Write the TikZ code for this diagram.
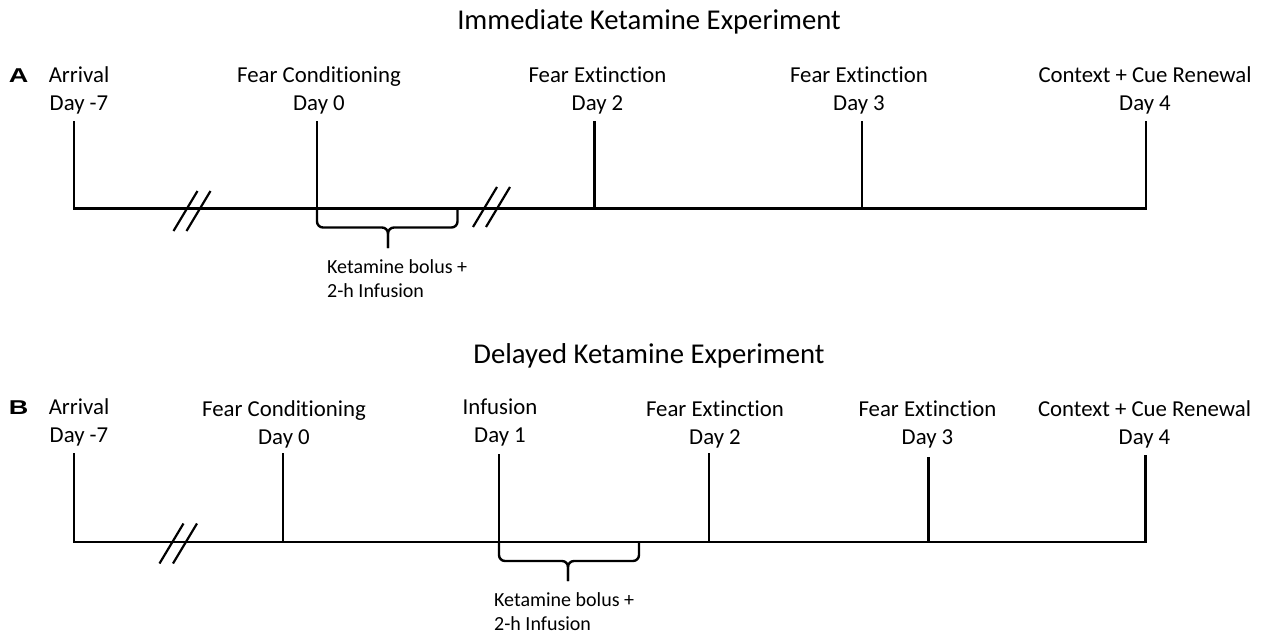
\documentclass[tikz,border=0pt]{standalone}
\usepackage{fontspec}
\setmainfont{Carlito}[Ligatures={NoCommon,NoContextual}, Contextuals=NoAlternate]
\newfontfamily\panelfont{Liberation Sans}
\usetikzlibrary{positioning}

\begin{document}
\begin{tikzpicture}[
        x=1pt, y=-1pt,
        every node/.style={font=\fontsize{22.8}{28}\selectfont},
        lbl/.style={align=center, inner sep=0pt, text depth=0pt},
        ttl/.style={anchor=base, inner sep=0pt, font=\fontsize{28.7}{34}\selectfont},
        pnl/.style={anchor=base, inner sep=0pt, xscale=1.35, transform shape, font=\panelfont\bfseries\fontsize{20}{24}\selectfont},
        note/.style={align=left, anchor=south west, inner sep=0pt, text depth=0pt, font=\fontsize{20}{24}\selectfont},
        tl/.style={line width=2.6pt},
        brk/.style={line width=2.2pt},
        brc/.style={line width=2.4pt, rounded corners=6pt}
    ]
    \useasboundingbox (0,0) rectangle (1265,637);

    % immediate experiment
    \coordinate (aArr) at (74,121);
    \coordinate (aFc) at (317,121);
    \coordinate (aEx2) at (594.5,121);
    \coordinate (aEx3) at (862,121);
    \coordinate (aRen) at (1146,121);
    \coordinate (aL) at (74,208.5);
    \coordinate (aR) at (1146,208.5);
    \coordinate (aTip) at (388,248);

    \node[ttl] (ttlA) at (649,29) {Immediate Ketamine Experiment};
    \node[pnl] (pnlA) at (18.5,82) {A};

    \node[lbl, above=10pt of aArr, xshift=5pt] (lArrA) {Arrival\\Day -7};
    \node[lbl, above=10pt of aFc, xshift=2pt] (lFcA) {Fear Conditioning\\Day 0};
    \node[lbl, above=10pt of aEx2, xshift=3pt] (lEx2A) {Fear Extinction\\Day 2};
    \node[lbl, above=10pt of aEx3, xshift=-3pt] (lEx3A) {Fear Extinction\\Day 3};
    \node[lbl, above=10pt of aRen, xshift=-1pt] (lRenA) {Context + Cue Renewal\\Day 4};

    \draw[tl] (aArr) -- (aL) -- (aR) -- (aRen);
    \draw[tl] (aFc) -- (aFc |- aL);
    \draw[tl] (aEx2) -- (aEx2 |- aL);
    \draw[tl] (aEx3) -- (aEx3 |- aL);

    \draw[brk] (173.5,231) -- (197.5,191) (186.5,231) -- (210.5,191);
    \draw[brk] (473,227) -- (497,187) (486,227) -- (510,187);

    \draw[brc] (aFc |- aL) |- (388,227.5) -- (aTip);
    \draw[brc] (457.5,208.5) |- (388,227.5) -- (aTip);
    \node[note] (kA) at (327,298) {Ketamine bolus +\\2-h Infusion};

    % delayed experiment
    \coordinate (bArr) at (74,453);
    \coordinate (bFc) at (283,453);
    \coordinate (bInf) at (499,454);
    \coordinate (bEx2) at (709,453);
    \coordinate (bEx3) at (928.5,457);
    \coordinate (bRen) at (1145.5,455);
    \coordinate (bL) at (74,542);
    \coordinate (bR) at (1145.5,542);
    \coordinate (bTip) at (568,581);

    \node[ttl] (ttlB) at (649,363) {Delayed Ketamine Experiment};
    \node[pnl] (pnlB) at (18.5,414) {B};

    \node[lbl, above=10pt of bArr, xshift=5pt] (lArrB) {Arrival\\Day -7};
    \node[lbl, above=8pt of bFc, xshift=1pt] (lFcB) {Fear Conditioning\\Day 0};
    \node[lbl, above=11pt of bInf, xshift=1pt] (lInfB) {Infusion\\Day 1};
    \node[lbl, above=8pt of bEx2, xshift=6pt] (lEx2B) {Fear Extinction\\Day 2};
    \node[lbl, above=12pt of bEx3, xshift=-1pt] (lEx3B) {Fear Extinction\\Day 3};
    \node[lbl, above=10pt of bRen, xshift=-1pt] (lRenB) {Context + Cue Renewal\\Day 4};

    \draw[tl] (bArr) -- (bL) -- (bR) -- (bRen);
    \draw[tl] (bFc) -- (bFc |- bL);
    \draw[tl] (bInf) -- (bInf |- bL);
    \draw[tl] (bEx2) -- (bEx2 |- bL);
    \draw[tl] (bEx3) -- (bEx3 |- bL);

    \draw[brk] (159.5,563.5) -- (183.5,523.5) (173,563.5) -- (197,523.5);

    \draw[brc] (bInf |- bL) |- (568,561) -- (bTip);
    \draw[brc] (639,542) |- (568,561) -- (bTip);
    \node[note] (kB) at (494,631) {Ketamine bolus +\\2-h Infusion};
\end{tikzpicture}
\end{document}
